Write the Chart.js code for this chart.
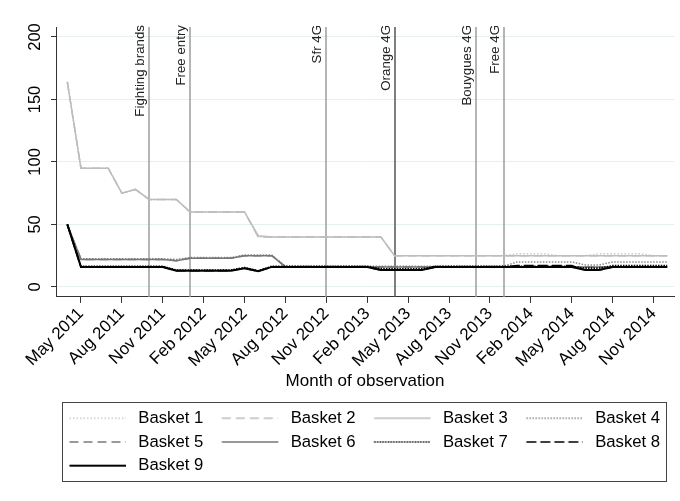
<!DOCTYPE html>
<html>
<head>
<meta charset="utf-8">
<script src="https://cdn.jsdelivr.net/npm/chart.js@4"></script>
<style>
  html, body { margin: 0; padding: 0; background: #fff; }
  #wrap { width: 680px; height: 501px; }
</style>
</head>
<body>
<div id="wrap"><canvas id="myChart" width="680" height="501"></canvas></div>
<script>
// months on the x axis (index = x value)
const months = [
    'Apr 2011', 'May 2011', 'Jun 2011', 'Jul 2011', 'Aug 2011', 'Sep 2011', 'Oct 2011', 'Nov 2011', 'Dec 2011',
    'Jan 2012', 'Feb 2012', 'Mar 2012', 'Apr 2012', 'May 2012', 'Jun 2012', 'Jul 2012', 'Aug 2012', 'Sep 2012', 'Oct 2012', 'Nov 2012', 'Dec 2012',
    'Jan 2013', 'Feb 2013', 'Mar 2013', 'Apr 2013', 'May 2013', 'Jun 2013', 'Jul 2013', 'Aug 2013', 'Sep 2013', 'Oct 2013', 'Nov 2013', 'Dec 2013',
    'Jan 2014', 'Feb 2014', 'Mar 2014', 'Apr 2014', 'May 2014', 'Jun 2014', 'Jul 2014', 'Aug 2014', 'Sep 2014', 'Oct 2014', 'Nov 2014', 'Dec 2014'
];
const tickMonths = [1, 4, 7, 10, 13, 16, 19, 22, 25, 28, 31, 34, 37, 40, 43]; // May 2011 ... Nov 2014
const yTicks = [0, 50, 100, 150, 200];

// market events (vertical lines)
const eventNames = ['Fighting brands', 'Free entry', 'Sfr 4G', 'Orange 4G', 'Bouygues 4G', 'Free 4G'];
const eventMonths = ['Oct 2011', 'Jan 2012', 'Nov 2012', 'Apr 2013', 'Oct 2013', 'Dec 2013'];

const basketNames = ['Basket 1', 'Basket 2', 'Basket 3', 'Basket 4', 'Basket 5', 'Basket 6', 'Basket 7', 'Basket 8', 'Basket 9'];

// prices, Apr 2011 -> Dec 2014
const basket1 = [164, 95, 95, 95, 75, 78, 70, 70, 70, 60, 60, 60, 60, 60, 40, 40, 40, 40, 40, 40, 40, 40, 40, 40,
    25, 25, 25, 25, 25, 25, 25, 25, 25, 26.5, 26.5, 26.5, 25, 25, 25, 26.5, 26.5, 26.5, 26.5, 25, 25];
const basket2 = [164, 95, 95, 95, 75, 78, 70, 70, 70, 60, 60, 60, 60, 60, 40, 40, 40, 40, 40, 40, 40, 40, 40, 40,
    25, 25, 25, 25, 25, 25, 25, 25, 25, 25, 25, 25, 25, 25, 25, 25, 25, 25, 25, 25, 25];
const basket3 = [164, 95, 95, 95, 75, 78, 70, 70, 70, 60, 60, 60, 60, 60, 41, 40, 40, 40, 40, 40, 40, 40, 40, 40,
    25, 25, 25, 25, 25, 25, 25, 25, 25, 25, 25, 25, 25, 25, 25, 25, 25, 25, 25, 25, 25];
const basket4 = [50, 22.5, 22.5, 22.5, 22.5, 22.5, 22.5, 22.5, 22, 23.5, 23.5, 23.5, 23.5, 25.5, 25.5, 25.5,
    16.5, 16.5, 16.5, 16.5, 16.5, 16.5, 16.5, 16.5, 16.5, 16.5, 16.5, 16.5, 16.5, 16.5, 16.5, 16.5, 16.5,
    20, 20, 20, 20, 20, 17.5, 17.5, 20, 20, 20, 20, 20];
const basket5 = [50, 22, 22, 22, 22, 22, 22, 22, 21, 23, 23, 23, 23, 25, 25, 25,
    16, 16, 16, 16, 16, 16, 16, 16, 16, 16, 16, 16, 16, 16, 16, 16, 16, 16, 16, 16, 16, 16, 16, 16, 16, 16, 16, 16, 16];
const basket6 = [50, 22, 22, 22, 22, 22, 22, 22, 21, 23, 23, 23, 23, 25, 25, 25,
    16, 16, 16, 16, 16, 16, 16, 16, 16, 16, 16, 16, 16, 16, 16, 16, 16, 16, 16, 16, 16, 16, 16, 16, 16, 16, 16, 16, 16];
const basket7 = [50, 16.5, 16.5, 16.5, 16.5, 16.5, 16.5, 16.5, 13.5, 13.5, 13.5, 13.5, 13.5, 15.5, 13,
    16.5, 16.5, 16.5, 16.5, 16.5, 16.5, 16.5, 16.5, 14.5, 14.5, 14.5, 14.5,
    16.5, 16.5, 16.5, 16.5, 16.5, 16.5, 16.5, 16.5, 16.5, 16.5, 16.5, 15, 15, 17, 17, 17, 17, 17];
const basket8 = [50, 16, 16, 16, 16, 16, 16, 16, 13, 13, 13, 13, 13, 15, 12.5,
    16, 16, 16, 16, 16, 16, 16, 16, 13.5, 13.5, 13.5, 13.5,
    16, 16, 16, 16, 16, 16, 17, 17, 17, 17, 17, 13.5, 13.5, 16, 16, 16, 16, 16];
const basket9 = [50, 16, 16, 16, 16, 16, 16, 16, 13, 13, 13, 13, 13, 15, 12.5,
    16, 16, 16, 16, 16, 16, 16, 16, 13.5, 13.5, 13.5, 13.5,
    16, 16, 16, 16, 16, 16, 16, 16, 16, 16, 16, 13.5, 13.5, 16, 16, 16, 16, 16];
const basketData = [basket1, basket2, basket3, basket4, basket5, basket6, basket7, basket8, basket9];

// stata-ish mono line styles
const lineStyles = [
    { color: '#cacaca', dash: [1.5, 2], width: 1.5 },
    { color: '#bdbdbd', dash: [9, 5], width: 1.5 },
    { color: '#bdbdbd', dash: [], width: 1.5 },
    { color: '#8a8a8a', dash: [1.5, 1.5], width: 1.5 },
    { color: '#7a7a7a', dash: [9, 5], width: 1.5 },
    { color: '#767676', dash: [], width: 1.5 },
    { color: '#000000', dash: [1.5, 1.2], width: 1.6 },
    { color: '#000000', dash: [10, 4], width: 1.6 },
    { color: '#000000', dash: [], width: 2 }
];

Chart.defaults.font.family = '"Liberation Sans", Arial, sans-serif';
Chart.defaults.color = '#000';

// legend samples: line drawn a bit inside a 72px wide image
function makeSample(st) {
    const c = document.createElement('canvas');
    c.width = 72;
    c.height = 8;
    const g = c.getContext('2d');
    g.strokeStyle = st.color;
    g.lineWidth = st.width;
    g.setLineDash(st.dash);
    g.beginPath();
    g.moveTo(11.5, 4);
    g.lineTo(68, 4);
    g.stroke();
    return c;
}
const samples = lineStyles.map(makeSample);

const datasets = basketNames.map((name, i) => ({
    label: name,
    data: basketData[i].map((v, j) => ({ x: j, y: v })),
    borderColor: lineStyles[i].color,
    backgroundColor: lineStyles[i].color,
    borderDash: lineStyles[i].dash,
    borderWidth: lineStyles[i].width,
    pointRadius: 0,
    tension: 0,
    fill: false,
    order: basketNames.length - 1 - i // basket 9 ends up on top like in stata
}));

// vertical event lines + rotated labels
const eventLinesPlugin = {
    id: 'eventLines',
    beforeDatasetsDraw(chart) {
        const { ctx, chartArea, scales } = chart;
        ctx.save();
        eventNames.forEach((name, i) => {
            const x = Math.round(scales.x.getPixelForValue(months.indexOf(eventMonths[i])));
            ctx.strokeStyle = name === 'Orange 4G' ? '#555555' : '#9c9c9c';
            ctx.lineWidth = 1.5;
            ctx.beginPath();
            ctx.moveTo(x, chartArea.top);
            ctx.lineTo(x, chartArea.bottom);
            ctx.stroke();

            ctx.save();
            ctx.translate(x - 5, chartArea.top - 2);
            ctx.rotate(-Math.PI / 2);
            ctx.fillStyle = '#222';
            ctx.font = '13.3px "Liberation Sans", Arial, sans-serif';
            ctx.textAlign = 'right';
            ctx.textBaseline = 'alphabetic';
            ctx.fillText(name, 0, 0);
            ctx.restore();
        });
        ctx.restore();
    }
};

// frame around the legend
const legendBoxPlugin = {
    id: 'legendBox',
    afterDraw(chart) {
        const l = chart.legend;
        if (!l) return;
        const ctx = chart.ctx;
        ctx.save();
        ctx.strokeStyle = '#444';
        ctx.lineWidth = 1;
        ctx.strokeRect(Math.round(l.left + 11) + 0.5, Math.round(l.top - 1) + 0.5, 604, 79);
        ctx.restore();
    }
};

const myChart = new Chart(document.getElementById('myChart'), {
    type: 'line',
    data: { datasets: datasets },
    options: {
        responsive: false,
        animation: false,
        devicePixelRatio: 1,
        layout: { padding: { left: 51, right: 6, top: 27, bottom: 17 } },
        plugins: {
            tooltip: { enabled: false },
            legend: {
                position: 'bottom',
                align: 'start',
                labels: {
                    usePointStyle: true,
                    pointStyleWidth: 72,
                    padding: 7,
                    color: '#000',
                    font: { size: 16.7 },
                    sort: (a, b) => a.datasetIndex - b.datasetIndex,
                    generateLabels(chart) {
                        const items = Chart.defaults.plugins.legend.labels.generateLabels(chart);
                        items.forEach(it => { it.pointStyle = samples[it.datasetIndex]; });
                        return items;
                    }
                }
            }
        },
        scales: {
            x: {
                type: 'linear',
                min: -0.83,
                max: 44.5,
                afterBuildTicks: s => { s.ticks = tickMonths.map(v => ({ value: v })); },
                afterFit: s => { s.height = 106; s.paddingLeft = 0; s.paddingRight = 0; },
                ticks: {
                    autoSkip: false,
                    minRotation: 45,
                    maxRotation: 45,
                    padding: 1,
                    color: '#000',
                    font: { size: 17 },
                    callback: v => months[v]
                },
                grid: { drawOnChartArea: false, drawTicks: true, tickLength: 6, tickColor: '#333', tickWidth: 1 },
                border: { display: true, color: '#333', width: 1 },
                title: {
                    display: true,
                    text: 'Month of observation',
                    color: '#000',
                    font: { size: 17 },
                    padding: { top: 0, bottom: 11 }
                }
            },
            y: {
                min: -8,
                max: 208,
                afterBuildTicks: s => { s.ticks = yTicks.map(v => ({ value: v })); },
                afterFit: s => { s.width = 5; s.paddingTop = 0; s.paddingBottom = 0; },
                ticks: {
                    // mirror so the labels are not clipped to the thin axis box, pushed back out with negative padding
                    mirror: true,
                    minRotation: 90,
                    maxRotation: 90,
                    crossAlign: 'center',
                    padding: -34.8,
                    color: '#000',
                    font: { size: 16.5 }
                },
                grid: { color: '#e6eff0', lineWidth: 1, tickLength: 5, tickColor: '#333', tickWidth: 1 },
                border: { display: true, color: '#333', width: 1 }
            }
        }
    },
    plugins: [eventLinesPlugin, legendBoxPlugin]
});
</script>
</body>
</html>
